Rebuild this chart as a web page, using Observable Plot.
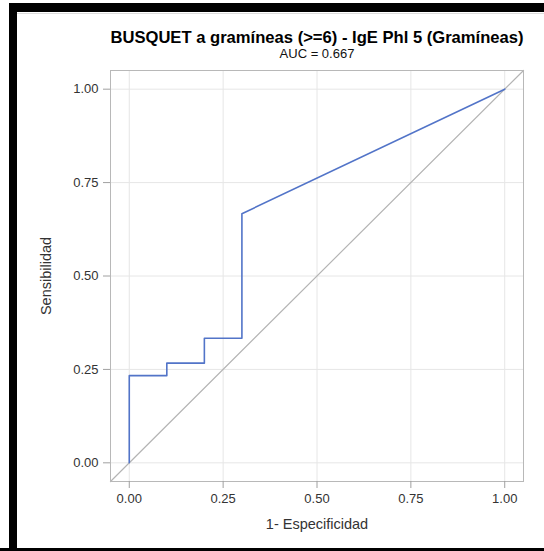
<!DOCTYPE html>
<html>
<head>
<meta charset="utf-8">
<script src="https://cdn.jsdelivr.net/npm/d3@7"></script>
<script src="https://cdn.jsdelivr.net/npm/@observablehq/plot@0.6"></script>
<style>
  html, body { margin: 0; padding: 0; background: #fff; }
  #wrap { position: relative; width: 544px; height: 551px; overflow: hidden; background: #fff; }
  #wrap svg { position: absolute; left: 0; top: 0; }
  .bar { position: absolute; background: #000; }
</style>
</head>
<body>
<div id="wrap"></div>
<script>
// ROC curve points (1 - specificity, sensitivity)
const fpr = [0, 0, 0.1, 0.1, 0.2, 0.2, 0.3, 0.3, 1];
const tpr = [0, 0.2333, 0.2333, 0.2667, 0.2667, 0.3333, 0.3333, 0.6667, 1];
// Reference diagonal
const diagX = [-0.05, 1.05];
const diagY = [-0.05, 1.05];
// Axis ticks
const ticks = [0, 0.25, 0.5, 0.75, 1];
const tickLabels = ["0.00", "0.25", "0.50", "0.75", "1.00"];
const titleText = "BUSQUET a gramíneas (>=6) - IgE Phl 5 (Gramíneas)";
const subtitleText = "AUC = 0.667";
const xLabel = "1- Especificidad";
const yLabel = "Sensibilidad";

const roc = fpr.map((x, i) => ({x, y: tpr[i]}));
const diag = diagX.map((x, i) => ({x, y: diagY[i]}));
const fmt = d => tickLabels[ticks.indexOf(d)];

const chart = Plot.plot({
  width: 544,
  height: 551,
  marginLeft: 110,
  marginRight: 21,
  marginTop: 70,
  marginBottom: 70,
  style: { fontFamily: "'Liberation Sans', Arial, sans-serif", background: "#fff" },
  x: { domain: [-0.05, 1.05] },
  y: { domain: [-0.05, 1.05] },
  marks: [
    Plot.gridX(ticks, { stroke: "#e6e6e6", strokeOpacity: 1 }),
    Plot.gridY(ticks, { stroke: "#e6e6e6", strokeOpacity: 1 }),
    Plot.line(diag, { x: "x", y: "y", stroke: "#b4b4b4", strokeWidth: 1.2 }),
    Plot.line(roc, { x: "x", y: "y", stroke: "#5274c8", strokeWidth: 1.6 }),
    Plot.frame({ stroke: "#b8b8b8" }),
    Plot.axisX(ticks, { tickFormat: fmt, tickSize: 7, tickPadding: 5, stroke: "#a0a0a0", fill: "#333", fontSize: 13, label: null }),
    Plot.axisY(ticks, { tickFormat: fmt, tickSize: 7, tickPadding: 5, stroke: "#a0a0a0", fill: "#333", fontSize: 13, label: null }),
    Plot.text([titleText], { frameAnchor: "top", dy: -33, text: d => d, fontSize: 16.6, fontWeight: "bold", fill: "#000", lineAnchor: "middle" }),
    Plot.text([subtitleText], { frameAnchor: "top", dy: -17, text: d => d, fontSize: 13, fill: "#111", lineAnchor: "middle" }),
    Plot.text([xLabel], { frameAnchor: "bottom", dy: 43, text: d => d, fontSize: 14.5, fill: "#333", lineAnchor: "middle" }),
    Plot.text([yLabel], { frameAnchor: "left", dx: -64, text: d => d, fontSize: 14.5, fill: "#333", rotate: -90, textAnchor: "middle", lineAnchor: "middle" })
  ]
});

const wrap = document.getElementById("wrap");
wrap.appendChild(chart);
function bar(l, t, w, h, c) {
  const d = document.createElement("div");
  d.className = "bar";
  d.style.left = l + "px"; d.style.top = t + "px";
  d.style.width = w + "px"; d.style.height = h + "px";
  if (c) d.style.background = c;
  wrap.appendChild(d);
}
bar(9, 3, 535, 9);      // top black
bar(9, 3, 8, 548);      // left black
bar(0, 548, 544, 3);    // bottom black
bar(17, 13, 527, 1, "#dcdcdc");
</script>
</body>
</html>
